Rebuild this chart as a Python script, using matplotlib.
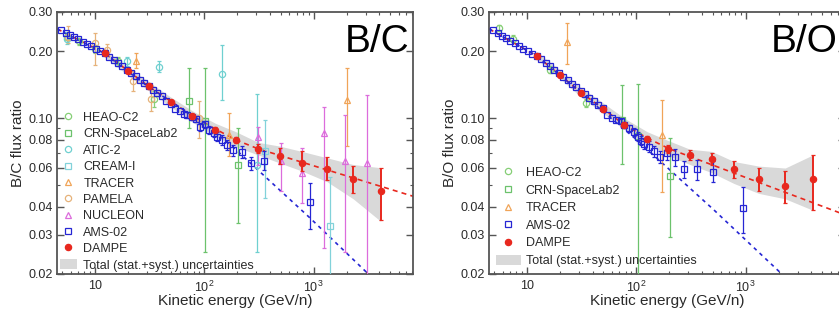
import matplotlib.pyplot as plt
import numpy as np
from matplotlib.lines import Line2D
from matplotlib.patches import Patch
from matplotlib.ticker import FixedLocator, FixedFormatter, NullFormatter

plt.rcParams['font.family'] = ['Liberation Sans', 'DejaVu Sans']
plt.rcParams['mathtext.fontset'] = 'custom'
plt.rcParams['mathtext.rm'] = 'Liberation Sans'
plt.rcParams['mathtext.it'] = 'Liberation Sans:italic'

# ---------------- data ----------------
dampe_e = [12.3, 20, 31, 50, 78, 126, 195, 310, 490, 780, 1320, 2300, 4100]

bc_dampe = [0.196, 0.163, 0.139, 0.118, 0.102, 0.089, 0.080, 0.073, 0.068, 0.063, 0.0595, 0.0535, 0.0472]
bc_dampe_lo = [0.192, 0.160, 0.136, 0.1155, 0.0995, 0.0865, 0.0775, 0.0695, 0.0625, 0.058, 0.053, 0.046, 0.035]
bc_dampe_hi = [0.200, 0.166, 0.142, 0.1205, 0.1045, 0.0915, 0.0825, 0.0765, 0.0735, 0.0715, 0.067, 0.061, 0.060]
bc_band_lo = [0.188, 0.156, 0.133, 0.112, 0.096, 0.083, 0.0745, 0.0685, 0.063, 0.058, 0.052, 0.0435, 0.0345]
bc_band_hi = [0.204, 0.170, 0.146, 0.124, 0.108, 0.095, 0.087, 0.078, 0.075, 0.071, 0.0665, 0.062, 0.060]

bo_dampe = [0.1905, 0.1565, 0.1304, 0.1098, 0.0934, 0.0808, 0.0727, 0.0685, 0.0655, 0.0591, 0.0533, 0.0499, 0.0535]
bo_dampe_lo = [0.186, 0.153, 0.1275, 0.107, 0.091, 0.078, 0.070, 0.065, 0.0614, 0.054, 0.047, 0.0416, 0.0387]
bo_dampe_hi = [0.195, 0.160, 0.1335, 0.1125, 0.096, 0.0835, 0.0755, 0.072, 0.0697, 0.064, 0.0598, 0.058, 0.0684]
bo_band_lo = [0.184, 0.151, 0.125, 0.105, 0.089, 0.0765, 0.068, 0.062, 0.057, 0.051, 0.046, 0.0435, 0.0387]
bo_band_hi = [0.199, 0.165, 0.138, 0.117, 0.100, 0.087, 0.0795, 0.0726, 0.071, 0.064, 0.061, 0.0598, 0.0684]

# AMS-02, dense low-energy part
ams_low_e = [4.9, 5.4, 5.9, 6.4, 7.0, 7.7, 8.5, 9.3, 10.2, 11.2, 12.3, 13.5, 14.8, 16.2, 17.8,
             19.5, 21.4, 23.5, 25.8, 28.3, 31.0, 34.0, 37.3, 41.0, 45.0, 49.4, 54.2, 59.5, 65.0]
bc_ams_low = [0.248, 0.2417, 0.2363, 0.2315, 0.2262, 0.2208, 0.2153, 0.2104, 0.2056, 0.2007, 0.196,
              0.1893, 0.1830, 0.1770, 0.1709, 0.1652, 0.1596, 0.1541, 0.1489, 0.1439, 0.1391,
              0.1344, 0.1299, 0.1255, 0.1190, 0.1155, 0.1100, 0.1075, 0.1045]
bo_ams_low = [0.248, 0.2406, 0.2344, 0.2290, 0.2231, 0.2170, 0.2109, 0.2054, 0.2000, 0.1946, 0.1905,
              0.1837, 0.1772, 0.1711, 0.1649, 0.1591, 0.1535, 0.1480, 0.1427, 0.1377, 0.1328,
              0.1281, 0.1236, 0.1191, 0.1148, 0.1107, 0.1030, 0.1005, 0.0985]

# AMS-02, high-energy part with error bars
bc_ams_e = [69.7, 76.5, 84, 92, 101, 111, 122, 132, 145, 160, 184, 222, 268, 350, 920]
bc_ams = [0.1035, 0.1017, 0.0993, 0.0918, 0.094, 0.0887, 0.0857, 0.0828, 0.080, 0.0761, 0.0721,
          0.0705, 0.0633, 0.0645, 0.042]
bc_ams_lo = [0.1005, 0.0985, 0.096, 0.088, 0.0905, 0.085, 0.082, 0.079, 0.076, 0.072, 0.068,
             0.066, 0.0586, 0.0586, 0.032]
bc_ams_hi = [0.1065, 0.1049, 0.1026, 0.0956, 0.0975, 0.0924, 0.0894, 0.0866, 0.084, 0.0802, 0.0762,
             0.075, 0.067, 0.0712, 0.0514]

bo_ams_e = [72, 78, 85, 94.4, 102.8, 110.5, 116.7, 129.6, 144, 163.6, 191.3, 224.7, 275.6, 357, 501, 948]
bo_ams = [0.0968, 0.0935, 0.0903, 0.0866, 0.0828, 0.0792, 0.0766, 0.0747, 0.0711, 0.0673, 0.0695,
          0.0669, 0.0593, 0.0591, 0.0573, 0.0395]
bo_ams_lo = [0.094, 0.0905, 0.087, 0.083, 0.079, 0.0755, 0.0725, 0.0705, 0.067, 0.063, 0.065,
             0.0609, 0.054, 0.0528, 0.0515, 0.0305]
bo_ams_hi = [0.0996, 0.0965, 0.0936, 0.0902, 0.0866, 0.0829, 0.0807, 0.0789, 0.0752, 0.0716, 0.072,
             0.0729, 0.0641, 0.0651, 0.0641, 0.0494]

# other experiments, B/C
bc_heao_e = [5.6, 7.2, 10.1, 16.2, 34.4]
bc_heao = [0.232, 0.222, 0.205, 0.180, 0.122]
bc_heao_lo = [0.224, 0.214, 0.197, 0.172, 0.112]
bc_heao_hi = [0.240, 0.230, 0.213, 0.188, 0.132]

bc_crn_e = [73, 101, 204]
bc_crn = [0.12, 0.097, 0.062]
bc_crn_lo = [0.0906, 0.025, 0.034]
bc_crn_hi = [0.168, 0.168, 0.0906]

bc_atic_e = [5.6, 19.8, 38.2, 146.5, 301]
bc_atic = [0.228, 0.18, 0.1705, 0.1587, 0.062]
bc_atic_lo = [0.215, 0.172, 0.162, 0.121, 0.025]
bc_atic_hi = [0.245, 0.188, 0.180, 0.213, 0.1285]

bc_cream_e = [359, 1419]
bc_cream = [0.0714, 0.0329]
bc_cream_lo = [0.0438, 0.019]
bc_cream_hi = [0.098, 0.0547]

bc_tracer_e = [23.6, 169, 2010]
bc_tracer = [0.18, 0.0845, 0.1209]
bc_tracer_lo = [0.168, 0.0675, 0.075]
bc_tracer_hi = [0.196, 0.1055, 0.168]

bc_pamela_e = [5.7, 10, 12.8, 22.3, 32.3, 90]
bc_pamela = [0.2325, 0.217, 0.2025, 0.1465, 0.1224, 0.100]
bc_pamela_lo = [0.217, 0.1735, 0.19, 0.1322, 0.1074, 0.0816]
bc_pamela_hi = [0.259, 0.2416, 0.215, 0.1625, 0.139, 0.119]

bc_nucleon_e = [310, 498, 778, 1232, 1942, 3100]
bc_nucleon = [0.082, 0.064, 0.0567, 0.0857, 0.064, 0.0629]
bc_nucleon_lo = [0.0619, 0.047, 0.0417, 0.0263, 0.025, 0.019]
bc_nucleon_hi = [0.0918, 0.0776, 0.0738, 0.1127, 0.1035, 0.127]

# other experiments, B/O
bo_heao_e = [5.53, 7.49, 16.3, 34.5]
bo_heao = [0.255, 0.228, 0.165, 0.117]
bo_heao_lo = [0.247, 0.220, 0.159, 0.112]
bo_heao_hi = [0.263, 0.236, 0.171, 0.122]

bo_crn_e = [74, 103, 205]
bo_crn = [0.0984, 0.083, 0.0553]
bo_crn_lo = [0.0626, 0.018, 0.0294]
bo_crn_hi = [0.141, 0.143, 0.0814]

bo_tracer_e = [23.1, 172]
bo_tracer = [0.2202, 0.0843]
bo_tracer_lo = [0.175, 0.0469]
bo_tracer_hi = [0.267, 0.121]

# fit curves
bc_red_e = [4.5, 12.3, 31, 78, 126, 200, 310, 8200]
bc_red = [0.252, 0.196, 0.139, 0.1025, 0.0895, 0.0795, 0.073, 0.0446]
bc_blue_e = [4.5, 12.3, 31, 100, 187.5, 920, 3162, 4000]
bc_blue = [0.252, 0.195, 0.138, 0.0952, 0.0735, 0.0358, 0.0200, 0.0179]

bo_red_e = [4.5, 12.3, 31, 78, 126, 200, 7400]
bo_red = [0.252, 0.1905, 0.131, 0.0935, 0.0815, 0.073, 0.0375]
bo_blue_e = [4.5, 12.3, 31, 101, 512, 2094, 2300]
bo_blue = [0.252, 0.1905, 0.1304, 0.080, 0.0388, 0.0202, 0.0193]

# ---------------- styles ----------------
C_AMS = '#2626d4'
C_DAMPE = '#e8281e'
C_HEAO = '#86cf76'
C_CRN = '#6cc26c'
C_ATIC = '#6fd0d0'
C_CREAM = '#82d2da'
C_TRACER = '#f0a458'
C_PAMELA = '#e6b27a'
C_NUCLEON = '#dc6cdc'
C_BAND = '#d9d9d9'
C_FRAME = '#555555'
C_TEXT = '#2a2a2a'


def errplot(ax, e, v, lo, hi, color, marker, ms=4.5, filled=False, lw=0.9, z=3):
    v = np.array(v)
    yerr = [v - np.array(lo), np.array(hi) - v]
    ax.errorbar(e, v, yerr=yerr, fmt=marker, ms=ms, mec=color,
                mfc=color if filled else 'none', mew=0.9, ecolor=color,
                elinewidth=lw, capsize=1.5, capthick=lw, zorder=z)


def style_axes(ax, ylabel, name, name_x):
    ax.set_xscale('log')
    ax.set_yscale('log')
    ax.set_xlim(4.5, 8100)
    ax.set_ylim(0.02, 0.30)
    ax.yaxis.set_major_locator(FixedLocator([0.02, 0.03, 0.04, 0.06, 0.08, 0.10, 0.20, 0.30]))
    ax.yaxis.set_major_formatter(FixedFormatter(['0.02', '0.03', '0.04', '0.06', '0.08', '0.10', '0.20', '0.30']))
    ax.yaxis.set_minor_locator(FixedLocator([0.05, 0.07, 0.09]))
    ax.yaxis.set_minor_formatter(NullFormatter())
    ax.xaxis.set_major_locator(FixedLocator([10, 100, 1000]))
    ax.xaxis.set_major_formatter(FixedFormatter(['10', '$10^2$', '$10^3$']))
    minors = [m * 10 ** k for k in range(0, 4) for m in range(2, 10)]
    ax.xaxis.set_minor_locator(FixedLocator(minors))
    ax.xaxis.set_minor_formatter(NullFormatter())
    ax.tick_params(which='both', direction='in', top=True, right=True, color=C_FRAME,
                   labelsize=9, labelcolor=C_TEXT)
    ax.tick_params(which='major', length=5, width=1.0)
    ax.tick_params(which='minor', length=2.5, width=0.8)
    ax.tick_params(axis='y', pad=3)
    ax.tick_params(axis='x', pad=4)
    for s in ax.spines.values():
        s.set_color(C_FRAME)
        s.set_linewidth(1.3)
    ax.set_xlabel('Kinetic energy (GeV/n)', fontsize=11, color=C_TEXT)
    ax.xaxis.set_label_coords(0.5, -0.075)
    ax.set_ylabel(ylabel, fontsize=11, color=C_TEXT)
    ax.yaxis.set_label_coords(-0.09, 0.5)
    ax.text(name_x, 0.955, name, transform=ax.transAxes, ha='right', va='top', fontsize=28)


def hmark(marker, color, filled=False, ms=4.5):
    return Line2D([], [], ls='none', marker=marker, ms=ms, mec=color,
                  mfc=color if filled else 'none', mew=0.9)


fig = plt.figure(figsize=(8.39, 3.2), dpi=100)
ax1 = fig.add_axes([57 / 839, 46 / 320, 356 / 839, 262 / 320])
ax2 = fig.add_axes([489 / 839, 46 / 320, 356 / 839, 262 / 320])

# ---------------- B/C ----------------
ax1.fill_between(dampe_e, bc_band_lo, bc_band_hi, color=C_BAND, lw=0, zorder=1)
ax1.plot(bc_red_e, bc_red, ls=(0, (3, 2.5)), color=C_DAMPE, lw=1.2, zorder=2)
ax1.plot(bc_blue_e, bc_blue, ls=(0, (2.2, 2.5)), color=C_AMS, lw=1.2, zorder=2)
errplot(ax1, bc_heao_e, bc_heao, bc_heao_lo, bc_heao_hi, C_HEAO, 'o')
errplot(ax1, bc_crn_e, bc_crn, bc_crn_lo, bc_crn_hi, C_CRN, 's', ms=4)
errplot(ax1, bc_atic_e, bc_atic, bc_atic_lo, bc_atic_hi, C_ATIC, 'o')
errplot(ax1, bc_cream_e, bc_cream, bc_cream_lo, bc_cream_hi, C_CREAM, 's', ms=4)
errplot(ax1, bc_tracer_e, bc_tracer, bc_tracer_lo, bc_tracer_hi, C_TRACER, '^')
errplot(ax1, bc_pamela_e, bc_pamela, bc_pamela_lo, bc_pamela_hi, C_PAMELA, 'o')
errplot(ax1, bc_nucleon_e, bc_nucleon, bc_nucleon_lo, bc_nucleon_hi, C_NUCLEON, '^')
ax1.plot(ams_low_e, bc_ams_low, ls='none', marker='s', ms=3.8, mec=C_AMS, mfc='none', mew=0.9, zorder=4)
errplot(ax1, bc_ams_e, bc_ams, bc_ams_lo, bc_ams_hi, C_AMS, 's', ms=3.8, z=4)
errplot(ax1, dampe_e, bc_dampe, bc_dampe_lo, bc_dampe_hi, C_DAMPE, 'o', ms=4.5, filled=True, lw=1.4, z=5)
style_axes(ax1, 'B/C flux ratio', 'B/C', 0.99)

bc_handles = [hmark('o', C_HEAO), hmark('s', C_CRN, ms=4), hmark('o', C_ATIC), hmark('s', C_CREAM, ms=4),
              hmark('^', C_TRACER), hmark('o', C_PAMELA), hmark('^', C_NUCLEON), hmark('s', C_AMS, ms=3.8),
              hmark('o', C_DAMPE, filled=True), Patch(color=C_BAND, lw=0)]
bc_labels = ['HEAO-C2', 'CRN-SpaceLab2', 'ATIC-2', 'CREAM-I', 'TRACER', 'PAMELA', 'NUCLEON',
             'AMS-02', 'DAMPE', 'Total (stat.+syst.) uncertainties']
leg1 = ax1.legend(bc_handles, bc_labels, loc='lower left', frameon=False, fontsize=9,
                  handlelength=1.4, handleheight=0.9, handletextpad=0.5, labelspacing=0.31,
                  borderaxespad=0.05, borderpad=0.15)
for t in leg1.get_texts():
    t.set_color(C_TEXT)

# ---------------- B/O ----------------
ax2.fill_between(dampe_e, bo_band_lo, bo_band_hi, color=C_BAND, lw=0, zorder=1)
ax2.plot(bo_red_e, bo_red, ls=(0, (3, 2.5)), color=C_DAMPE, lw=1.2, zorder=2)
ax2.plot(bo_blue_e, bo_blue, ls=(0, (2.2, 2.5)), color=C_AMS, lw=1.2, zorder=2)
errplot(ax2, bo_heao_e, bo_heao, bo_heao_lo, bo_heao_hi, C_HEAO, 'o')
errplot(ax2, bo_crn_e, bo_crn, bo_crn_lo, bo_crn_hi, C_CRN, 's', ms=4)
errplot(ax2, bo_tracer_e, bo_tracer, bo_tracer_lo, bo_tracer_hi, C_TRACER, '^')
ax2.plot(ams_low_e, bo_ams_low, ls='none', marker='s', ms=3.8, mec=C_AMS, mfc='none', mew=0.9, zorder=4)
errplot(ax2, bo_ams_e, bo_ams, bo_ams_lo, bo_ams_hi, C_AMS, 's', ms=3.8, z=4)
errplot(ax2, dampe_e, bo_dampe, bo_dampe_lo, bo_dampe_hi, C_DAMPE, 'o', ms=4.5, filled=True, lw=1.4, z=5)
style_axes(ax2, 'B/O flux ratio', 'B/O', 0.978)

bo_handles = [hmark('o', C_HEAO), hmark('s', C_CRN, ms=4), hmark('^', C_TRACER),
              hmark('s', C_AMS, ms=3.8), hmark('o', C_DAMPE, filled=True), Patch(color=C_BAND, lw=0)]
bo_labels = ['HEAO-C2', 'CRN-SpaceLab2', 'TRACER', 'AMS-02', 'DAMPE', 'Total (stat.+syst.) uncertainties']
leg2 = ax2.legend(bo_handles, bo_labels, loc='lower left', frameon=False, fontsize=9,
                  handlelength=2.0, handleheight=0.9, handletextpad=0.4, labelspacing=0.41,
                  borderaxespad=0.4, borderpad=0.15)
for t in leg2.get_texts():
    t.set_color(C_TEXT)

fig.savefig('out.png', dpi=100)
